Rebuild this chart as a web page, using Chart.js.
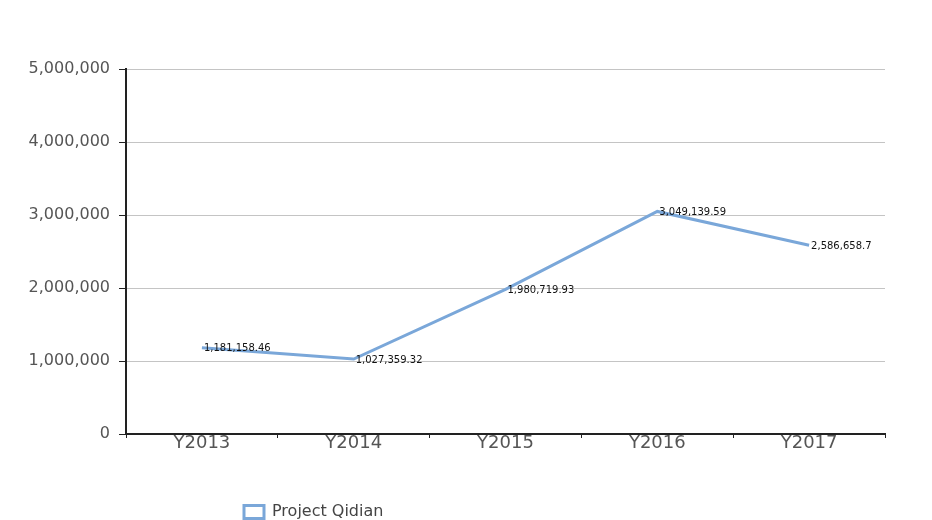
<!DOCTYPE html>
<html>
<head>
<meta charset="utf-8">
<script src="https://cdn.jsdelivr.net/npm/chart.js@4/dist/chart.umd.min.js"></script>
<style>
  html, body { margin: 0; padding: 0; background: #fff; }
  #wrap { width: 932px; height: 520px; }
</style>
</head>
<body>
<div id="wrap"><canvas id="lineChart" width="932" height="520"></canvas></div>
<script>
const years = ['Y2013', 'Y2014', 'Y2015', 'Y2016', 'Y2017'];
const qidian = [1181158.46, 1027359.32, 1980719.93, 3049139.59, 2586658.7];
const yTicks = [0, 1000000, 2000000, 3000000, 4000000, 5000000];

const fontFamily = '"DejaVu Sans", Verdana, sans-serif';

// value labels to the right of each point
const pointLabels = {
    id: 'pointLabels',
    afterDatasetsDraw(chart) {
        const ctx = chart.ctx;
        const meta = chart.getDatasetMeta(0);
        ctx.save();
        ctx.font = '10px ' + fontFamily;
        ctx.fillStyle = '#111';
        ctx.textAlign = 'left';
        ctx.textBaseline = 'middle';
        meta.data.forEach((pt, i) => {
            const v = chart.data.datasets[0].data[i];
            ctx.fillText(v.toLocaleString('en-US', { maximumFractionDigits: 2 }), pt.x + 2, pt.y + 1);
        });
        ctx.restore();
    }
};

// legend sits left of centre and low in the reference
const shiftLegend = {
    id: 'shiftLegend',
    afterLayout(chart) {
        const lg = chart.legend;
        const dx = 236 - lg.left;
        const dy = 10;
        lg.left += dx;
        lg.right += dx;
        lg.top += dy;
        lg.bottom += dy;
    }
};

const lineChart = new Chart(document.getElementById('lineChart'), {
    type: 'line',
    data: {
        labels: years,
        datasets: [{
            label: 'Project Qidian',
            data: qidian,
            borderColor: '#7aa7d9',
            backgroundColor: '#ffffff',
            borderWidth: 3,
            pointRadius: 0,
            tension: 0
        }]
    },
    options: {
        responsive: false,
        animation: false,
        layout: { padding: { left: 0, right: 47, top: 69, bottom: 0 } },
        plugins: {
            legend: {
                position: 'bottom',
                align: 'start',
                labels: {
                    boxWidth: 20,
                    boxHeight: 13,
                    padding: 8,
                    color: '#444',
                    font: { family: fontFamily, size: 16 }
                }
            },
            tooltip: { enabled: false }
        },
        scales: {
            x: {
                offset: true,
                border: { color: '#222', width: 2 },
                grid: { offset: true, drawOnChartArea: false, drawTicks: true, tickLength: 4, tickColor: '#222' },
                ticks: { color: '#555', padding: -5, font: { family: fontFamily, size: 18 } },
                afterFit(scale) { scale.height = 52; }
            },
            y: {
                min: 0,
                max: 5000000,
                border: { color: '#222', width: 2 },
                grid: { color: '#c4c4c4', lineWidth: 1, tickLength: 7, tickColor: '#222' },
                afterBuildTicks(scale) { scale.ticks = yTicks.map(v => ({ value: v })); },
                ticks: {
                    color: '#555',
                    padding: 9,
                    font: { family: fontFamily, size: 16 },
                    callback: v => v.toLocaleString('en-US')
                },
                afterFit(scale) { scale.width = 126; }
            }
        }
    },
    plugins: [pointLabels, shiftLegend]
});
</script>
</body>
</html>
